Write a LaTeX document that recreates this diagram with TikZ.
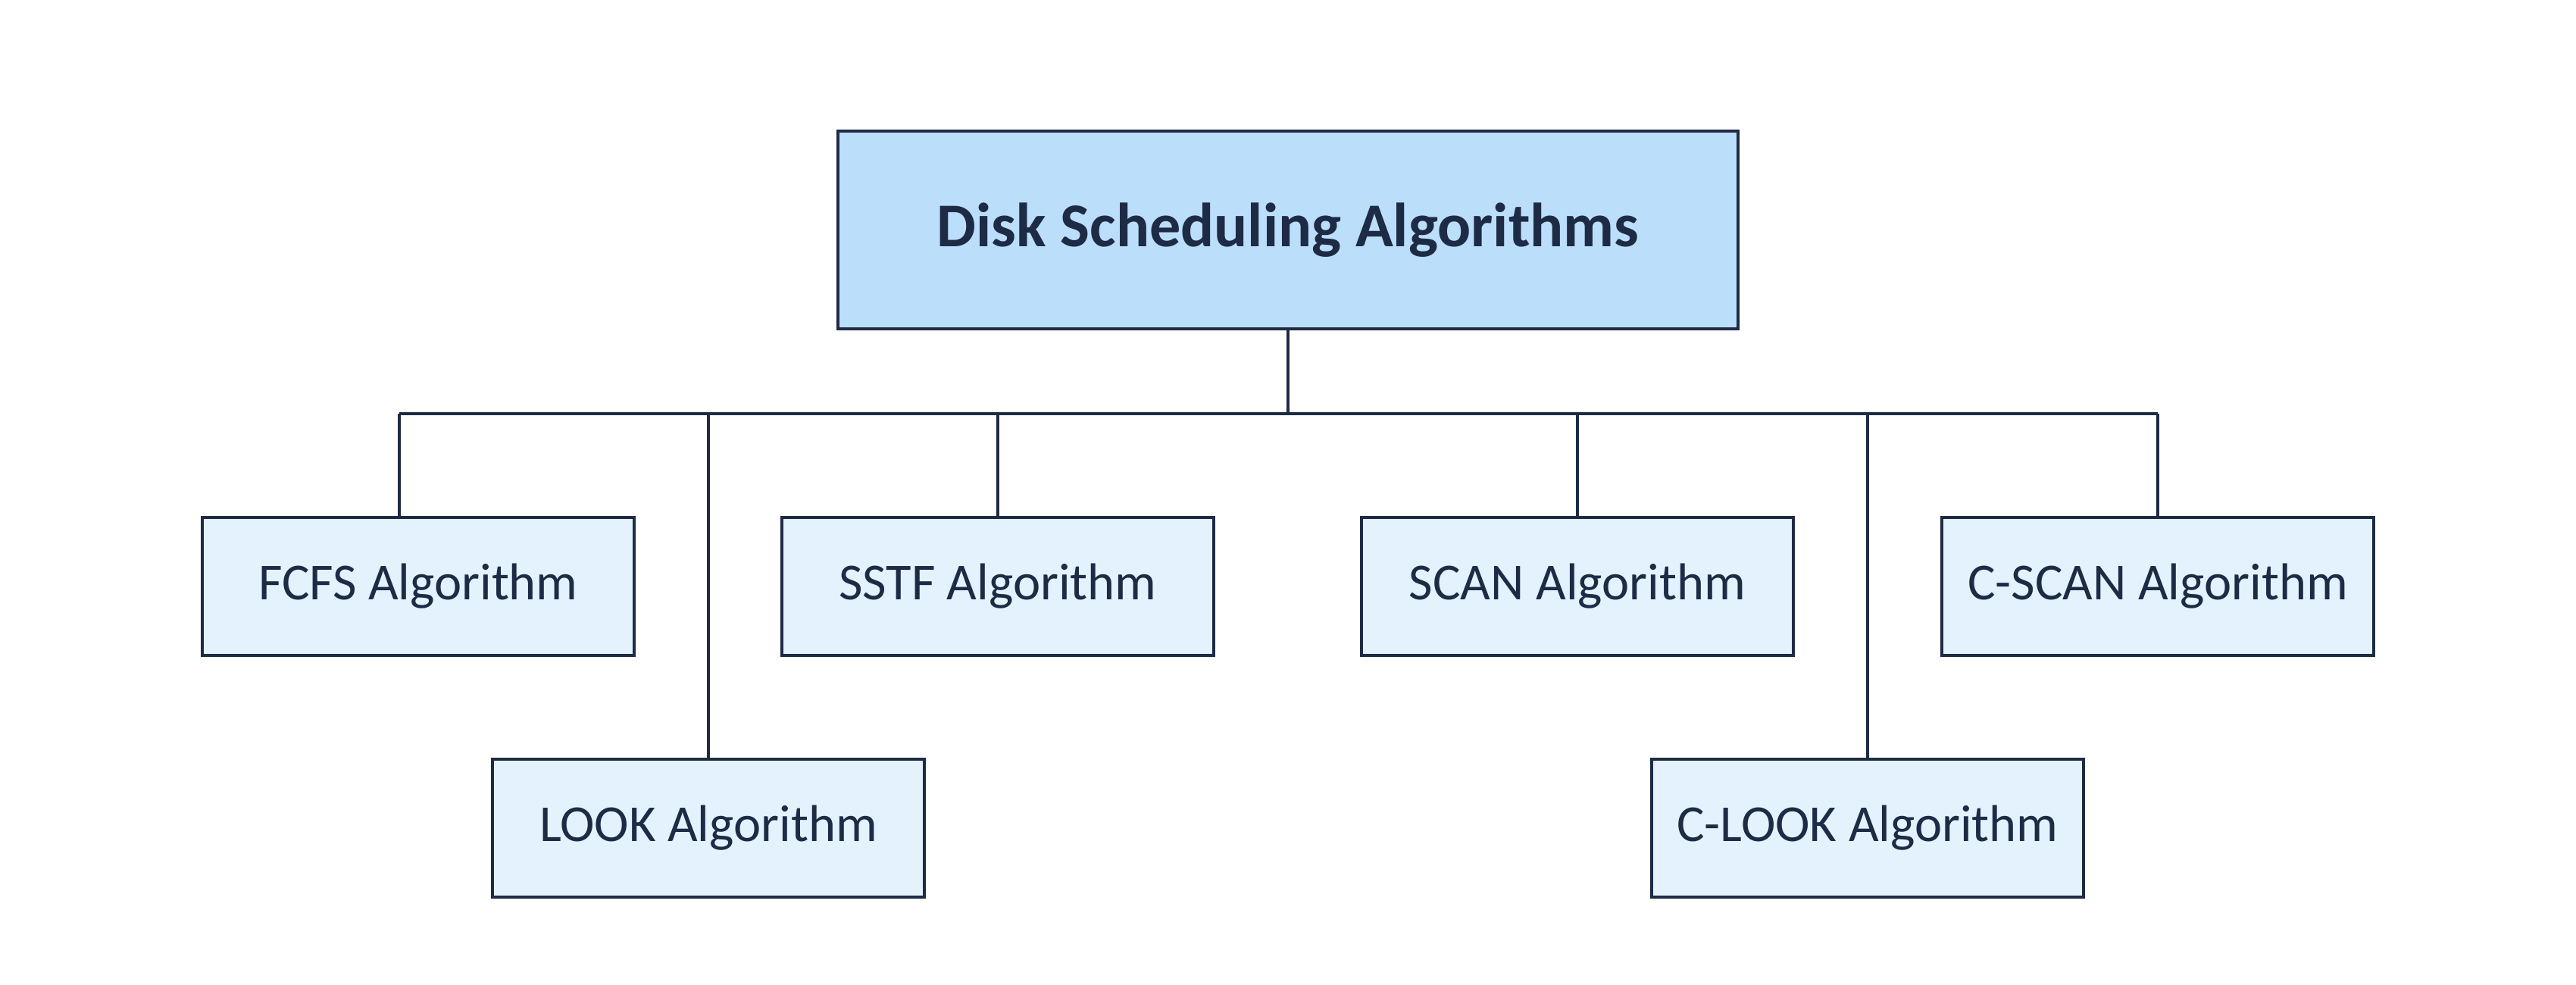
\documentclass[tikz,border=0pt]{standalone}
\usepackage{fontspec}
\setmainfont{Carlito}
\definecolor{inkline}{HTML}{1E2B45}
\definecolor{rootfill}{HTML}{BBDEFB}
\definecolor{leaffill}{HTML}{E3F2FD}
\tikzset{
  algobox/.style={draw=inkline, line width=1pt, fill=leaffill, text=inkline,
    minimum width=5.7cm, minimum height=1.82cm, inner sep=0pt,
    font=\fontsize{19.5}{23}\selectfont},
  rootbox/.style={algobox, fill=rootfill, minimum width=11.88cm,
    minimum height=2.61cm, font=\fontsize{23.4}{28}\selectfont\bfseries},
  link/.style={draw=inkline, line width=1pt},
}
\begin{document}
\begin{tikzpicture}
  \useasboundingbox (0, 0) rectangle (34, -13);
  \node[rootbox] (root) at (17, -3.035) {Disk Scheduling Algorithms};
  \node[algobox] (fcfs) at (5.52, -7.74) {FCFS Algorithm};
  \node[algobox] (sstf) at (13.17, -7.74) {SSTF Algorithm};
  \node[algobox] (scan) at (20.82, -7.74) {SCAN Algorithm};
  \node[algobox] (cscan) at (28.48, -7.74) {C-SCAN Algorithm};
  \node[algobox] (look) at (9.35, -10.93) {LOOK Algorithm};
  \node[algobox] (clook) at (24.65, -10.93) {C-LOOK Algorithm};
  \coordinate (busl) at (5.27, -5.46);
  \coordinate (busr) at (28.48, -5.46);
  \draw[link] (busl) -- (busr);
  \draw[link] (root.south) -- (root.south |- busl);
  \draw[link] (busl) -- (busl |- fcfs.north);
  \foreach \n in {sstf,scan,cscan,look,clook}
    \draw[link] (\n.north |- busl) -- (\n.north);
\end{tikzpicture}
\end{document}
